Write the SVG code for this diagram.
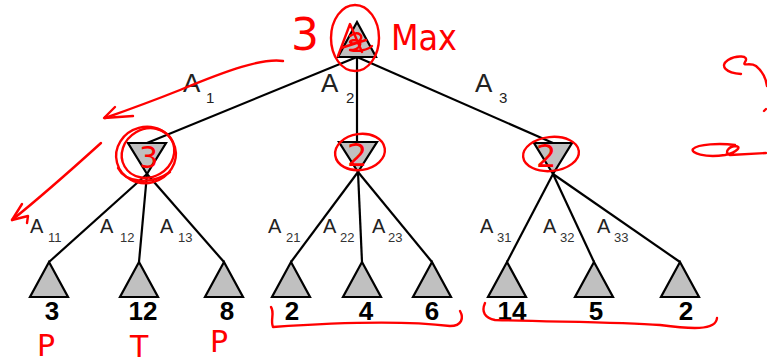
<svg xmlns="http://www.w3.org/2000/svg" width="767" height="364" viewBox="0 0 767 364">
<style>
.tri{fill:#c0c0c0;stroke:#000;stroke-width:2.2;stroke-linejoin:miter}
.edge{stroke:#000;stroke-width:2.2;fill:none}
.lab{font-family:"Liberation Sans",Arial,sans-serif;fill:#222}
.big{font-size:26px}
.bsub{font-size:15px}
.sm{font-size:20px}
.ssub{font-size:13px;fill:#333}
.num{font-family:"Liberation Sans",Arial,sans-serif;font-weight:bold;font-size:26px;fill:#000;text-anchor:middle}
.ink{fill:none;stroke:#f00;stroke-width:2.4;stroke-linecap:round;stroke-linejoin:round}
.hand{font-family:"DejaVu Sans","Liberation Sans",sans-serif;fill:#f00}
</style>
<rect width="767" height="364" fill="#fff"/>
<g id="connectors">
<line class="edge" x1="357" y1="57" x2="147" y2="143"/>
<line class="edge" x1="357" y1="57" x2="357" y2="142"/>
<line class="edge" x1="357" y1="57" x2="553" y2="143"/>
<line class="edge" x1="147" y1="174" x2="49" y2="262"/>
<line class="edge" x1="147" y1="174" x2="139" y2="262"/>
<line class="edge" x1="147" y1="174" x2="224" y2="262"/>
<line class="edge" x1="358" y1="172" x2="291" y2="262"/>
<line class="edge" x1="358" y1="172" x2="362" y2="262"/>
<line class="edge" x1="358" y1="172" x2="432" y2="262"/>
<line class="edge" x1="553" y1="174" x2="507" y2="262"/>
<line class="edge" x1="553" y1="174" x2="594" y2="262"/>
<line class="edge" x1="553" y1="174" x2="680" y2="262"/>
</g>
<g id="root"><polygon class="tri" points="357,22 376,57 338,57"/></g>
<g id="min1"><polygon class="tri" points="128,143 166,143 147,174"/></g>
<g id="min2"><polygon class="tri" points="339,142 377,142 358,172"/></g>
<g id="min3"><polygon class="tri" points="534,143 572,143 553,174"/></g>
<g id="leaf1"><polygon class="tri" points="49,262 68,297 30,297"/><text class="num" x="52" y="320">3</text></g>
<g id="leaf2"><polygon class="tri" points="139,262 158,297 120,297"/><text class="num" x="143" y="320">12</text></g>
<g id="leaf3"><polygon class="tri" points="224,262 243,297 205,297"/><text class="num" x="227" y="320">8</text></g>
<g id="leaf4"><polygon class="tri" points="291,262 310,297 272,297"/><text class="num" x="292" y="320">2</text></g>
<g id="leaf5"><polygon class="tri" points="362,262 381,297 343,297"/><text class="num" x="366" y="320">4</text></g>
<g id="leaf6"><polygon class="tri" points="432,262 451,297 413,297"/><text class="num" x="432" y="320">6</text></g>
<g id="leaf7"><polygon class="tri" points="507,262 526,297 488,297"/><text class="num" x="512" y="320">14</text></g>
<g id="leaf8"><polygon class="tri" points="594,262 613,297 575,297"/><text class="num" x="596" y="320">5</text></g>
<g id="leaf9"><polygon class="tri" points="680,262 699,297 661,297"/><text class="num" x="686" y="320">2</text></g>
<g id="labels">
<text class="lab big" x="183" y="92">A</text><text class="lab bsub" x="206" y="103">1</text>
<text class="lab big" x="321" y="92">A</text><text class="lab bsub" x="346" y="103">2</text>
<text class="lab big" x="475" y="92">A</text><text class="lab bsub" x="499" y="103">3</text>
<text class="lab sm" x="30" y="233">A</text><text class="lab ssub" x="48" y="242">11</text>
<text class="lab sm" x="100" y="233">A</text><text class="lab ssub" x="120" y="242">12</text>
<text class="lab sm" x="160" y="233">A</text><text class="lab ssub" x="178" y="242">13</text>
<text class="lab sm" x="268" y="233">A</text><text class="lab ssub" x="286" y="242">21</text>
<text class="lab sm" x="323" y="233">A</text><text class="lab ssub" x="340" y="242">22</text>
<text class="lab sm" x="372" y="233">A</text><text class="lab ssub" x="388" y="242">23</text>
<text class="lab sm" x="480" y="233">A</text><text class="lab ssub" x="497" y="242">31</text>
<text class="lab sm" x="543" y="233">A</text><text class="lab ssub" x="560" y="242">32</text>
<text class="lab sm" x="597" y="233">A</text><text class="lab ssub" x="614" y="242">33</text>
</g>
<g id="annotations">
<text class="hand" x="291" y="50" font-size="44">3</text>
<text class="hand" x="391" y="50" font-size="36" textLength="66" lengthAdjust="spacingAndGlyphs">Max</text>
<ellipse class="ink" cx="355" cy="38" rx="24" ry="33"/>
<path class="ink" d="M338,56 L350,24 L362,52 M341,48 L366,40 M350,36 C358,30 366,36 358,42 C350,46 346,40 356,40 C364,42 360,50 350,50 C358,52 368,50 372,46"/>
<path class="ink" d="M283,61 C262,58 228,70 180,90 C150,102 122,112 105,118"/>
<path class="ink" d="M115,107 L104,118 L133,116"/>
<path class="ink" d="M101,143 C80,162 42,196 12,220"/>
<path class="ink" d="M22,204 L12,220 L28,216 L27,223"/>
<ellipse class="ink" cx="146" cy="155" rx="30" ry="28" transform="rotate(-15 146 155)"/>
<ellipse class="ink" cx="148" cy="153" rx="27" ry="24" transform="rotate(-30 148 153)"/>
<path class="ink" d="M118,168 C125,182 150,186 170,172"/>
<text class="hand" x="139" y="168" font-size="30">3</text>
<ellipse class="ink" cx="360" cy="152" rx="25" ry="18" transform="rotate(-8 360 152)"/>
<text class="hand" x="347" y="166" font-size="32">2</text>
<ellipse class="ink" cx="551" cy="154" rx="28" ry="17" transform="rotate(-6 551 154)"/>
<text class="hand" x="536" y="167" font-size="32">2</text>
<path class="ink" d="M741,74 C726,73 719,66 728,60 C736,55 750,55 745,62 C742,67 750,62 756,66 C762,71 766,78 767,86"/>
<path class="ink" d="M764,111 L766,109"/>
<path class="ink" d="M766,153 L730,155 C724,153 728,147 735,146 C742,146 738,152 725,155 C705,158 690,153 693,149 C698,144 720,143 735,145"/>
<path class="ink" d="M271,307 C275,313 270,320 273,327 C330,323 400,320 450,326 C462,326 464,318 460,311"/>
<path class="ink" d="M485,303 C481,312 485,318 495,320 C560,322 620,322 660,325 C690,329 716,331 717,318"/>
<text class="hand" x="37" y="356" font-size="30">P</text>
<text class="hand" x="130" y="357" font-size="30">T</text>
<text class="hand" x="210" y="352" font-size="30">P</text>
</g>
</svg>
